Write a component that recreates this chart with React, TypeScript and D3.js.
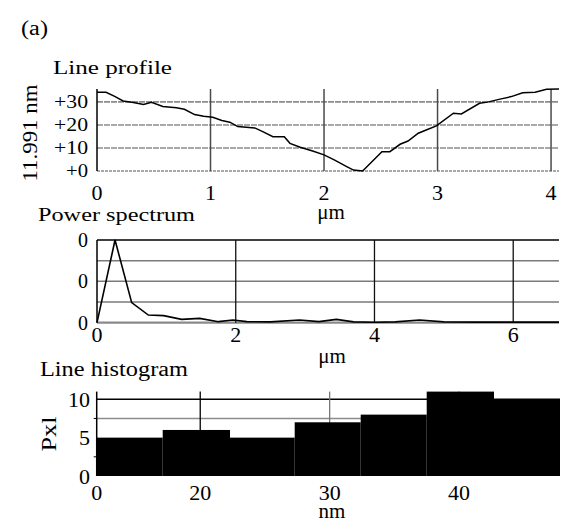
import React from "react"
import * as d3 from "d3"

// line profile (um, nm)
const profileX = [0, 0.08, 0.16, 0.23, 0.32, 0.41, 0.48, 0.58, 0.7, 0.77, 0.86, 0.94, 1.02, 1.1, 1.17, 1.24, 1.39, 1.46, 1.55, 1.65, 1.7, 1.79, 1.9, 2.0, 2.09, 2.2, 2.26, 2.34, 2.51, 2.58, 2.67, 2.74, 2.83, 2.9, 2.99, 3.14, 3.21, 3.37, 3.44, 3.55, 3.65, 3.75, 3.86, 3.96, 4.07]
const profileY = [34.2, 34.2, 32.3, 30.4, 29.7, 28.9, 29.8, 28.0, 27.5, 26.8, 24.5, 23.8, 23.3, 21.9, 21.2, 19.3, 18.7, 17.1, 14.9, 14.9, 12.0, 10.3, 8.7, 7.0, 4.8, 1.9, 0.4, 0, 8.4, 8.4, 11.6, 13.0, 16.4, 17.8, 19.6, 25.1, 24.8, 29.4, 29.9, 31.2, 32.3, 34.0, 34.2, 35.5, 35.6]
const profileYTicks = [0, 10, 20, 30]
const profileYLabels = ["+0", "+10", "+20", "+30"]
const profileXTicks = [0, 1, 2, 3, 4]

// power spectrum
const psX = [0, 0.26, 0.5, 0.74, 0.96, 1.22, 1.48, 1.75, 1.96, 2.16, 2.5, 2.92, 3.2, 3.45, 3.7, 4.0, 4.3, 4.65, 5.0, 5.5, 6.0, 6.66]
const psY = [0, 4, 0.97, 0.37, 0.34, 0.16, 0.21, 0.05, 0.13, 0.05, 0.04, 0.13, 0.05, 0.16, 0.04, 0.02, 0.04, 0.13, 0.04, 0.03, 0.03, 0.03]
const psYTicks = [0, 2, 4]
const psYLabels = ["0", "0", "0"]
const psXTicks = [0, 2, 4, 6]

// line histogram (nm, pixel count)
const histEdges = [12, 17.1, 22.3, 27.3, 32.4, 37.5, 42.7, 47.8]
const histCounts = [5, 6, 5, 7, 8, 11, 10]
const histYTicks = [0, 5, 10]
const histXTicks = [12, 20, 30, 40]
const histXLabels = ["0", "20", "30", "40"]

const FONT = "\"Liberation Serif\", \"Times New Roman\", Times, serif"

export default function App() {
    // panel 1
    const x1 = d3.scaleLinear().domain([0, 4.07]).range([97, 559])
    const y1 = d3.scaleLinear().domain([0, 35.6]).range([171, 89])
    const line1 = d3.line<number>()
        .x((d, i) => x1(profileX[i]))
        .y(d => y1(d))
    // panel 2
    const x2 = d3.scaleLinear().domain([0, 6.66]).range([97, 559])
    const y2 = d3.scaleLinear().domain([0, 4]).range([322.7, 240])
    const line2 = d3.line<number>()
        .x((d, i) => x2(psX[i]))
        .y(d => y2(d))
    // panel 3
    const x3 = d3.scaleLinear().domain([12, 47.8]).range([96.7, 560])
    const y3 = d3.scaleLinear().domain([0, 11]).range([476, 391.6])

    return (
        <svg width={572} height={530} style={{ position: "absolute", left: 0, top: 0, background: "#fff", fontFamily: FONT }}
            fill="#000">
            <text x={21} y={35} fontSize={20} textLength={27} lengthAdjust="spacingAndGlyphs">(a)</text>

            {/* Line profile */}
            <text x={53} y={74} fontSize={19} textLength={119} lengthAdjust="spacingAndGlyphs">Line profile</text>
            {[10, 20, 30, 0].map(v => (
                <line key={"h1" + v} x1={x1(0)} x2={559} y1={y1(v)} y2={y1(v)}
                    stroke="#8c8c8c" strokeWidth={1.6} strokeDasharray={v === 0 ? "3 1" : "6 1"} />
            ))}
            {profileXTicks.slice(1).map(v => (
                <line key={"v1" + v} x1={x1(v)} x2={x1(v)} y1={89} y2={171} stroke="#4a4a4a" strokeWidth={1.5} />
            ))}
            <line x1={x1(0)} x2={x1(0)} y1={89} y2={171} stroke="#000" strokeWidth={1.5} />
            <path d={line1(profileY) || ""} fill="none" stroke="#000" strokeWidth={1.5} />
            {profileYTicks.map((v, i) => (
                <text key={"yl1" + v} x={88} y={y1(v)} dy="0.35em" fontSize={18} textAnchor="end"
                    textLength={v === 0 ? 22 : 34} lengthAdjust="spacingAndGlyphs">{profileYLabels[i]}</text>
            ))}
            {profileXTicks.map(v => (
                <text key={"xl1" + v} x={x1(v)} y={200} fontSize={22} textAnchor="middle">{v}</text>
            ))}
            <text x={331} y={219} fontSize={21} textAnchor="middle">μm</text>
            <text transform="translate(37,133) rotate(-90)" fontSize={22} textAnchor="middle"
                textLength={97} lengthAdjust="spacingAndGlyphs">11.991 nm</text>

            {/* Power spectrum */}
            <text x={38} y={221} fontSize={19} textLength={157} lengthAdjust="spacingAndGlyphs">Power spectrum</text>
            {[1, 2, 3].map(v => (
                <line key={"h2" + v} x1={x2(0)} x2={559} y1={y2(v)} y2={y2(v)} stroke="#7a7a7a" strokeWidth={1.5} />
            ))}
            <line x1={x2(0)} x2={559} y1={y2(4)} y2={y2(4)} stroke="#000" strokeWidth={1.5} />
            <line x1={x2(0)} x2={559} y1={y2(0)} y2={y2(0)} stroke="#8a8a8a" strokeWidth={2.2} />
            {psXTicks.slice(1).map(v => (
                <line key={"v2" + v} x1={x2(v)} x2={x2(v)} y1={240} y2={322.7} stroke="#111" strokeWidth={1.3} />
            ))}
            <line x1={x2(0)} x2={x2(0)} y1={240} y2={322.7} stroke="#000" strokeWidth={1.5} />
            <path d={line2(psY) || ""} fill="none" stroke="#000" strokeWidth={1.6} />
            {psYTicks.map((v, i) => (
                <text key={"yl2" + v} x={88} y={y2(v)} dy="0.35em" fontSize={20} textAnchor="end">{psYLabels[i]}</text>
            ))}
            {psXTicks.map(v => (
                <text key={"xl2" + v} x={x2(v)} y={342} fontSize={22} textAnchor="middle">{v}</text>
            ))}
            <text x={332} y={363} fontSize={21} textAnchor="middle">μm</text>

            {/* Line histogram */}
            <text x={40} y={376} fontSize={20} textLength={148} lengthAdjust="spacingAndGlyphs">Line histogram</text>
            <line x1={x3(12)} x2={560} y1={y3(7.5)} y2={y3(7.5)} stroke="#8c8c8c" strokeWidth={1.5} />
            <line x1={x3(12)} x2={560} y1={y3(10)} y2={y3(10)} stroke="#000" strokeWidth={1.3} />
            <line x1={x3(20)} x2={x3(20)} y1={391.6} y2={476} stroke="#000" strokeWidth={1.3} />
            {[30, 40].map(v => (
                <line key={"v3" + v} x1={x3(v)} x2={x3(v)} y1={391.6} y2={476} stroke="#777" strokeWidth={1.3} />
            ))}
            {histCounts.map((c, i) => (
                <rect key={"b" + i} x={x3(histEdges[i])} width={x3(histEdges[i + 1]) - x3(histEdges[i])}
                    y={y3(c)} height={y3(0) - y3(c)} fill="#000" />
            ))}
            <line x1={x3(12)} x2={x3(12)} y1={391.6} y2={476} stroke="#000" strokeWidth={1.5} />
            {[2.5, 7.5].map(v => (
                <line key={"mt" + v} x1={x3(12) - 3} x2={x3(12)} y1={y3(v)} y2={y3(v)} stroke="#000" strokeWidth={1} />
            ))}
            {histYTicks.map(v => (
                <text key={"yl3" + v} x={90} y={y3(v)} dy="0.35em" fontSize={22} textAnchor="end">{v}</text>
            ))}
            {histXTicks.map((v, i) => (
                <text key={"xl3" + v} x={x3(v)} y={500} fontSize={22} textAnchor="middle">{histXLabels[i]}</text>
            ))}
            <text x={332} y={518} fontSize={21} textAnchor="middle">nm</text>
            <text transform="translate(56,434) rotate(-90)" fontSize={22} textAnchor="middle"
                textLength={35} lengthAdjust="spacingAndGlyphs">Pxl</text>
        </svg>
    )
}
